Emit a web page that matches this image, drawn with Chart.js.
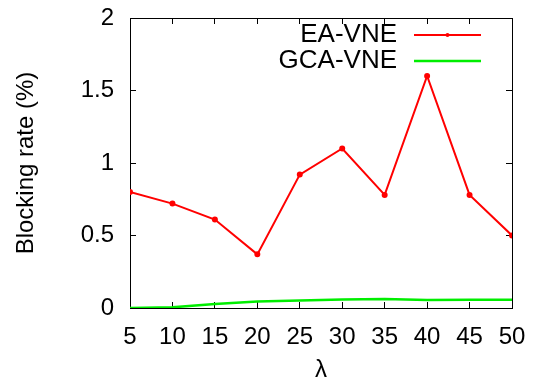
<!DOCTYPE html>
<html lang="en">
<head>
<meta charset="UTF-8">
<title>Blocking rate</title>
<script src="https://cdn.jsdelivr.net/npm/chart.js@4"></script>
<style>
  html, body { margin: 0; padding: 0; background: #fff; }
  #wrap { width: 536px; height: 382px; }
</style>
</head>
<body>
<div id="wrap"><canvas id="canvas1" width="536" height="382"></canvas></div>

<script>
// data
const lambdas = [5, 10, 15, 20, 25, 30, 35, 40, 45, 50];
const eaVne  = [0.80, 0.72, 0.61, 0.37, 0.92, 1.10, 0.78, 1.60, 0.78, 0.50];
const gcaVne = [0.000, 0.005, 0.027, 0.044, 0.052, 0.058, 0.062, 0.055, 0.057, 0.057];
const yTicks = [0, 0.5, 1, 1.5, 2];

const FONT = 'Liberation Sans, Arial, Helvetica, sans-serif';

const toPoints = (ys) => lambdas.map((x, i) => ({ x: x, y: ys[i] }));

// no label overhang padding, the layout padding handles the margins
const noPad = (s) => { s.paddingTop = 0; s.paddingBottom = 0; s.paddingLeft = 0; s.paddingRight = 0; };

// gnuplot style key: text on the left, line sample on the right
const keyPlugin = {
  id: 'gnuKey',
  afterDatasetsDraw(chart) {
    const c = chart.ctx;
    const textRight = 397, x1 = 414, x2 = 481;
    const rows = [35, 61];
    c.save();
    c.font = '26px ' + FONT;
    c.textAlign = 'right';
    c.textBaseline = 'middle';
    chart.data.datasets.forEach((ds, i) => {
      const y = rows[i];
      c.fillStyle = '#000';
      c.fillText(ds.label, textRight, y);
      c.strokeStyle = ds.borderColor;
      c.lineWidth = ds.borderWidth;
      c.beginPath();
      c.moveTo(x1, y);
      c.lineTo(x2, y);
      c.stroke();
      if (ds.pointRadius > 0) {
        c.fillStyle = ds.borderColor;
        c.beginPath();
        c.arc((x1 + x2) / 2, y, ds.pointRadius, 0, Math.PI * 2);
        c.fill();
      }
    });
    c.restore();
  }
};

// axis that draws only its frame line and inward tick marks
const mirrorAxis = (position, min, max, step) => ({
  type: 'linear',
  position: position,
  min: min,
  max: max,
  ticks: { display: false, stepSize: step },
  grid: { drawOnChartArea: false, drawTicks: true, tickLength: -6, color: '#000', tickWidth: 1 },
  border: { display: true, color: '#000', width: 1 },
  afterFit(s) {
    if (position === 'top') s.height = 0; else s.width = 0;
    noPad(s);
  }
});

const config = {
  type: 'line',
  data: {
    datasets: [
      {
        label: 'EA-VNE',
        data: toPoints(eaVne),
        borderColor: '#ff0000',
        backgroundColor: '#ff0000',
        borderWidth: 2,
        pointRadius: 2,
        pointHoverRadius: 2,
        tension: 0
      },
      {
        label: 'GCA-VNE',
        data: toPoints(gcaVne),
        borderColor: '#00ee00',
        backgroundColor: '#00ee00',
        borderWidth: 2.5,
        pointRadius: 0,
        tension: 0
      }
    ]
  },
  options: {
    responsive: false,
    animation: false,
    layout: { padding: { left: 0, right: 24, top: 18, bottom: 0 } },
    plugins: {
      legend: { display: false },
      tooltip: { enabled: false }
    },
    scales: {
      x: {
        type: 'linear',
        position: 'bottom',
        min: 5,
        max: 50,
        ticks: { stepSize: 5, color: '#000', font: { family: FONT, size: 24 }, padding: 21, maxRotation: 0 },
        grid: { drawOnChartArea: false, drawTicks: true, tickLength: -6, color: '#000' },
        border: { display: true, color: '#000', width: 1 },
        title: { display: true, text: 'λ', color: '#000', font: { family: FONT, size: 24, lineHeight: 1 }, padding: { top: 0, bottom: 0 } },
        afterFit(s) { s.height = 74; noPad(s); }
      },
      y: {
        type: 'linear',
        position: 'left',
        min: 0,
        max: 2,
        afterBuildTicks(s) { s.ticks = yTicks.map(v => ({ value: v })); },
        ticks: { color: '#000', font: { family: FONT, size: 24 }, padding: 22, callback: (v) => String(v) },
        grid: { drawOnChartArea: false, drawTicks: true, tickLength: -6, color: '#000' },
        border: { display: true, color: '#000', width: 1 },
        title: { display: true, text: 'Blocking rate (%)', color: '#000', font: { family: FONT, size: 24, lineHeight: 1 }, padding: { top: 14, bottom: 0 } },
        afterFit(s) { s.width = 130; noPad(s); }
      },
      xTop: mirrorAxis('top', 5, 50, 5),
      yRight: mirrorAxis('right', 0, 2, 0.5)
    }
  },
  plugins: [keyPlugin]
};

const resultChart = new Chart(document.getElementById('canvas1').getContext('2d'), config);
</script>
</body>
</html>
